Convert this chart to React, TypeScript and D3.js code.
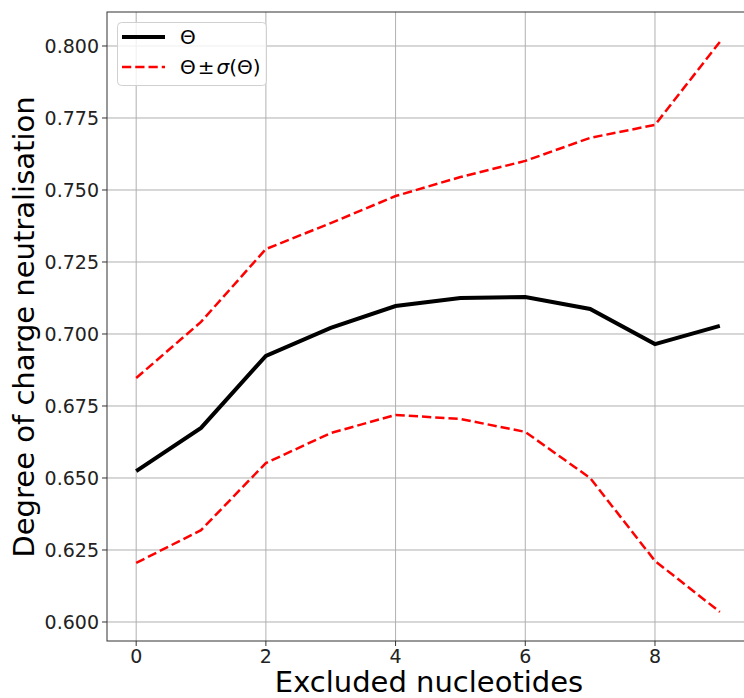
import React from "react";
import * as d3 from "d3";

const xs = [0, 1, 2, 3, 4, 5, 6, 7, 8, 9];
const theta = [0.6524, 0.6674, 0.6924, 0.7021, 0.7097, 0.7125, 0.7128, 0.7087, 0.6965, 0.7028];
const upper = [0.6847, 0.7042, 0.7295, 0.7385, 0.7479, 0.7545, 0.7601, 0.7681, 0.7726, 0.8014];
const lower = [0.6205, 0.6319, 0.6552, 0.6656, 0.6719, 0.6705, 0.6660, 0.6500, 0.6212, 0.6035];
const xTicks = [0, 2, 4, 6, 8];
const yTicks = [0.6, 0.625, 0.65, 0.675, 0.7, 0.725, 0.75, 0.775, 0.8];

const W = 744, H = 698;
const L = 107, R = 749, T = 12, B = 641;
const FONT = "DejaVu Sans, sans-serif";

export default function App() {
  const x = d3.scaleLinear().domain([-0.45, 9.45]).range([L, R]);
  const y = d3.scaleLinear().domain([0.5934, 0.8118]).range([B, T]);
  const line = d3.line<number>().x((_, i) => x(xs[i])).y((d) => y(d));
  return (
    <svg width={W} height={H} style={{ position: "absolute", left: 0, top: 0, background: "#fff" }}>
      <defs>
        <clipPath id="clip">
          <rect x={L} y={T} width={R - L} height={B - T} />
        </clipPath>
      </defs>
      <rect x={0} y={0} width={W} height={H} fill="#fff" />
      {xTicks.map((t) => (
        <line key={"gx" + t} x1={x(t)} x2={x(t)} y1={T} y2={B} stroke="#b0b0b0" strokeWidth={1} />
      ))}
      {yTicks.map((t) => (
        <line key={"gy" + t} x1={L} x2={R} y1={y(t)} y2={y(t)} stroke="#b0b0b0" strokeWidth={1} />
      ))}
      <g clipPath="url(#clip)">
        <path d={line(upper) || ""} fill="none" stroke="#ff0000" strokeWidth={2.5} strokeDasharray="9.25,4" />
        <path d={line(lower) || ""} fill="none" stroke="#ff0000" strokeWidth={2.5} strokeDasharray="9.25,4" />
        <path d={line(theta) || ""} fill="none" stroke="#000" strokeWidth={4} />
      </g>
      <rect x={L} y={T} width={R - L} height={B - T} fill="none" stroke="#333" strokeWidth={1} />
      {xTicks.map((t) => (
        <g key={"tx" + t}>
          <line x1={x(t)} x2={x(t)} y1={B} y2={B + 5} stroke="#333" />
          <text x={x(t)} y={663} textAnchor="middle" fontFamily={FONT} fontSize={19} fill="#222">
            {t}
          </text>
        </g>
      ))}
      {yTicks.map((t) => (
        <g key={"ty" + t}>
          <line x1={L - 5} x2={L} y1={y(t)} y2={y(t)} stroke="#333" />
          <text x={L - 8} y={y(t)} dy="0.36em" textAnchor="end" fontFamily={FONT} fontSize={19} fill="#222">
            {d3.format(".3f")(t)}
          </text>
        </g>
      ))}
      <text x={429} y={692} textAnchor="middle" fontFamily={FONT} fontSize={29} fill="#000">
        Excluded nucleotides
      </text>
      <text
        transform={`translate(34,${327}) rotate(-90)`}
        textAnchor="middle"
        fontFamily={FONT}
        fontSize={29}
        fill="#000"
      >
        Degree of charge neutralisation
      </text>
      <g>
        <rect x={117.5} y={22.5} width={149} height={63} rx={4} fill="#fff" fillOpacity={0.8} stroke="#d0d0d0" />
        <line x1={122} x2={165} y1={37} y2={37} stroke="#000" strokeWidth={4} />
        <text x={180} y={37} dy="0.36em" fontFamily={FONT} fontSize={20} fill="#000">Θ</text>
        <line x1={122} x2={165} y1={67} y2={67} stroke="#ff0000" strokeWidth={2.5} strokeDasharray="9.25,4" />
        <text x={180} y={67} dy="0.36em" fontFamily={FONT} fontSize={20} fill="#000">
          Θ<tspan dx={2}>±</tspan><tspan dx={2} fontStyle="italic">σ</tspan><tspan dx={0}>(Θ)</tspan>
        </text>
      </g>
    </svg>
  );
}
